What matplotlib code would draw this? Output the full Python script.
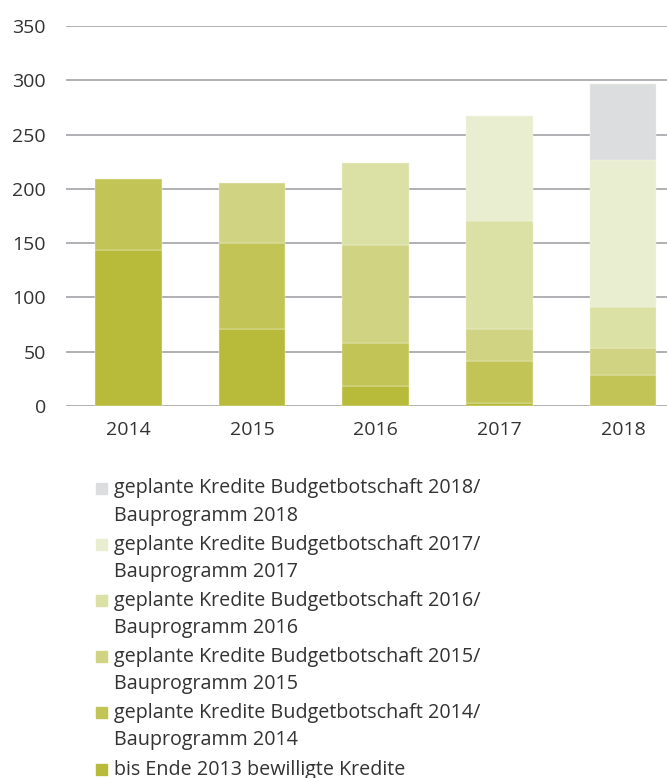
import matplotlib
matplotlib.use("Agg")
import matplotlib.pyplot as plt
from matplotlib.patches import Rectangle

plt.rcParams['font.family'] = ['Open Sans', 'DejaVu Sans']

# Daten (Mio. CHF)
years = ['2014', '2015', '2016', '2017', '2018']
bis_2013 = [144, 71, 18, 2.5, 0]
bb_2014 = [65, 79, 40, 38.5, 29]
bb_2015 = [0, 55, 90, 30, 24]
bb_2016 = [0, 0, 76, 99, 38]
bb_2017 = [0, 0, 0, 97, 136]
bb_2018 = [0, 0, 0, 0, 70]

series = [bis_2013, bb_2014, bb_2015, bb_2016, bb_2017, bb_2018]
labels = [
    'bis Ende 2013 bewilligte Kredite',
    'geplante Kredite Budgetbotschaft 2014/\nBauprogramm 2014',
    'geplante Kredite Budgetbotschaft 2015/\nBauprogramm 2015',
    'geplante Kredite Budgetbotschaft 2016/\nBauprogramm 2016',
    'geplante Kredite Budgetbotschaft 2017/\nBauprogramm 2017',
    'geplante Kredite Budgetbotschaft 2018/\nBauprogramm 2018',
]
colors = ['#b8bb3a', '#c2c556', '#d0d381', '#dbe0a4', '#e9eed0', '#dcdddf']
yticks = [0, 50, 100, 150, 200, 250, 300, 350]

W, H = 667, 778
fig = plt.figure(figsize=(W / 100, H / 100), dpi=100)
ax = fig.add_axes([66 / W, 1 - 406 / H, 1 - 66 / W, (406 - 26) / H])

text_col = '#333333'
x = list(range(len(years)))
bottom = [0] * len(years)
for vals, col in zip(series, colors):
    bars = ax.bar(x, vals, width=0.54, bottom=bottom, color=col,
                  edgecolor='#f4f6e4', linewidth=0.3, zorder=3)
    for b, v in zip(bars, vals):
        if v == 0:
            b.set_linewidth(0)
    bottom = [b + v for b, v in zip(bottom, vals)]

ax.set_ylim(0, 350)
ax.set_xlim(-0.506, 4.357)
ax.set_yticks(yticks)
ax.set_xticks(x)
ax.set_xticklabels(years)
ax.yaxis.grid(True, color='#a3a3a8', linewidth=1.2, zorder=0)
ax.set_axisbelow(True)
for s in ax.spines.values():
    s.set_visible(False)
ax.tick_params(axis='both', length=0, labelsize=14, colors=text_col)
ax.tick_params(axis='y', pad=14.5)
ax.tick_params(axis='x', pad=11)
for lbl in ax.get_yticklabels():
    lbl.set_horizontalalignment('right')

# Legende (manuell, oberste Reihe zuerst)
y0 = 488
step = 56.2
line_gap = 27
for i, (lab, col) in enumerate(zip(labels[::-1], colors[::-1])):
    cy = y0 + i * step
    fig.patches.append(Rectangle((96 / W, 1 - (cy + 5.5) / H), 11 / W, 11 / H,
                                 transform=fig.transFigure, color=col))
    for j, line in enumerate(lab.split('\n')):
        fig.text(114 / W, 1 - (cy + 5.5 + j * line_gap) / H, line,
                 fontsize=14.2, color=text_col, va='baseline', ha='left')

fig.savefig('out.png', dpi=100)
